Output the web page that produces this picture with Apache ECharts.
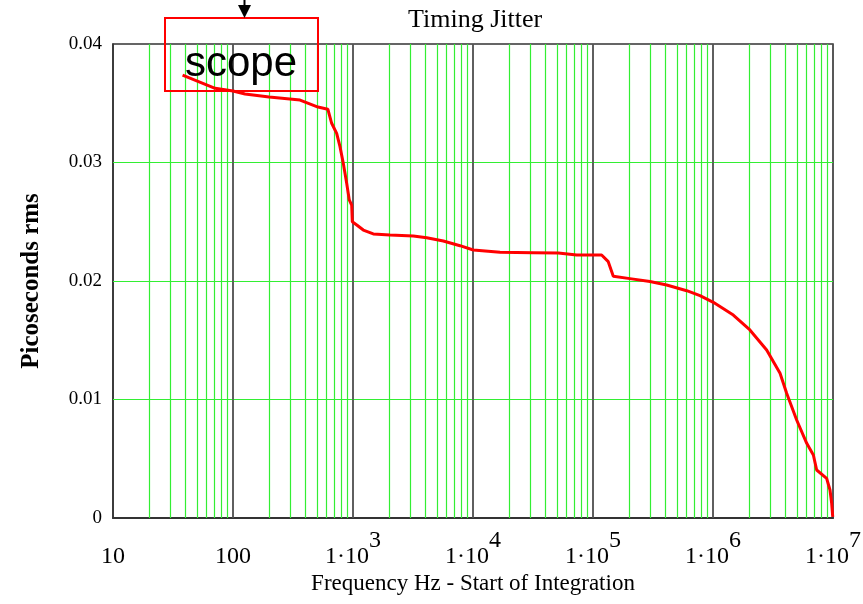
<!DOCTYPE html>
<html>
<head>
<meta charset="utf-8">
<script src="https://cdn.jsdelivr.net/npm/echarts@6/dist/echarts.min.js"></script>
<style>
  html, body { margin: 0; padding: 0; background: #ffffff; }
  #chart { width: 863px; height: 604px; }
</style>
</head>
<body>
<div id="chart"></div>
<script>
// Integrated timing jitter (ps rms) versus the lower integration limit (Hz)
const freqHz = [
  38, 71, 100, 126, 200, 362, 511, 617, 664, 731, 779, 830, 886, 931, 975, 987,
  1075, 1219, 1476, 2034, 3183, 4115, 5658, 7792, 10060, 16790, 31800, 51400,
  73100, 118000, 134000, 147600, 203000, 298000, 411000, 604000, 779000,
  1006000, 1476000, 2030000, 2800000, 3620000, 4110000, 4980000, 6040000,
  6860000, 7310000, 8850000, 9440000, 9750000, 9950000
];
const jitterPs = [
  0.03738, 0.03626, 0.03603, 0.03578, 0.03552, 0.03527, 0.03468, 0.03450, 0.03331,
  0.03246, 0.03134, 0.02993, 0.02824, 0.02684, 0.02641, 0.02500,
  0.02473, 0.02430, 0.02397, 0.02388, 0.02380, 0.02365, 0.02338, 0.02298,
  0.02262, 0.02242, 0.02239, 0.02236,
  0.02219, 0.02219, 0.02163, 0.02040, 0.02020, 0.01995, 0.01966, 0.01918, 0.01876,
  0.01820, 0.01713, 0.01587, 0.01418, 0.01221, 0.01052, 0.00827, 0.00630,
  0.00532, 0.00405, 0.00335, 0.00236, 0.00124, 0.00010
];

// Grid: green lines at 2..9 within each decade and at the inner value ticks,
// dark lines on the decades themselves
const decadeStarts = [10, 100, 1e3, 1e4, 1e5, 1e6];
const minorMultipliers = [2, 3, 4, 5, 6, 7, 8, 9];
const innerDecades = [100, 1e3, 1e4, 1e5, 1e6];
const valueGridLines = [0.01, 0.02, 0.03];

const serif = "'Liberation Serif', 'Times New Roman', serif";

const minorLines = [];
decadeStarts.forEach(d => minorMultipliers.forEach(m => minorLines.push({ xAxis: d * m })));

function freqLabel(value) {
  const exp = Math.round(Math.log10(value));
  if (exp < 3) return '{n|' + Math.round(value) + '}';
  return '{n|1·10}{s|' + exp + '}';
}

const chart = echarts.init(document.getElementById('chart'), null, { renderer: 'canvas' });

chart.setOption({
  backgroundColor: '#ffffff',
  animation: false,
  title: {
    text: 'Timing Jitter',
    left: 403,
    top: 2,
    textStyle: { fontFamily: serif, fontSize: 26, fontWeight: 'normal', color: '#000' }
  },
  grid: {
    left: 113, right: 30, top: 44, bottom: 86,
    outerBoundsMode: 'none',
    containLabel: false,
    show: true, borderColor: '#333', borderWidth: 1.5, backgroundColor: '#fff'
  },
  xAxis: {
    type: 'log',
    logBase: 10,
    min: 10,
    max: 1e7,
    name: 'Frequency Hz - Start of Integration',
    nameLocation: 'middle',
    nameGap: 54,
    nameMoveOverlap: false,
    nameTextStyle: { fontFamily: serif, fontSize: 23, color: '#000' },
    axisLine: { show: true, lineStyle: { color: '#333', width: 2 } },
    axisTick: { show: false },
    splitLine: { show: true, lineStyle: { color: '#555', width: 1.5 } },
    axisLabel: {
      margin: 11,
      formatter: freqLabel,
      color: '#000',
      fontFamily: serif,
      fontSize: 24,
      rich: {
        n: { fontFamily: serif, fontSize: 24, lineHeight: 56, color: '#000' },
        s: { fontFamily: serif, fontSize: 24, lineHeight: 24, padding: [0, 0, 32, 0], color: '#000' }
      }
    }
  },
  yAxis: {
    type: 'value',
    min: 0,
    max: 0.04,
    interval: 0.01,
    name: 'Picoseconds rms',
    nameLocation: 'middle',
    nameRotate: 90,
    nameGap: 69,
    nameMoveOverlap: false,
    nameTextStyle: { fontFamily: serif, fontSize: 25, fontWeight: 'bold', color: '#000' },
    axisLine: { show: true, lineStyle: { color: '#333', width: 1.5 } },
    axisTick: { show: false },
    splitLine: { show: false },
    axisLabel: { margin: 11, fontFamily: serif, fontSize: 19, color: '#000' }
  },
  series: [
    {
      name: 'grid',
      type: 'line',
      data: [],
      silent: true,
      z: 1,
      markLine: {
        silent: true,
        symbol: ['none', 'none'],
        label: { show: false },
        animation: false,
        lineStyle: { color: '#33ee33', width: 1.2, type: 'solid' },
        data: minorLines
          .concat(valueGridLines.map(v => ({ yAxis: v })))
          .concat(innerDecades.map(d => ({ xAxis: d, lineStyle: { color: '#555', width: 1.5 } })))
      }
    },
    {
      name: 'Timing Jitter',
      type: 'line',
      data: freqHz.map((f, i) => [f, jitterPs[i]]),
      showSymbol: false,
      z: 5,
      lineStyle: { color: '#ff0000', width: 3 },
      itemStyle: { color: '#ff0000' }
    }
  ],
  graphic: [
    {
      type: 'rect',
      z: 100,
      shape: { x: 165, y: 18, width: 153, height: 73 },
      style: { fill: 'none', stroke: '#ff0000', lineWidth: 2 }
    },
    {
      type: 'text',
      z: 100,
      x: 185,
      y: 64,
      style: { text: 'scope', font: '42px "Liberation Sans", Arial, sans-serif', fill: '#000', verticalAlign: 'middle' }
    },
    {
      type: 'line',
      z: 100,
      shape: { x1: 244.5, y1: 0, x2: 244.5, y2: 8 },
      style: { stroke: '#000', lineWidth: 2 }
    },
    {
      type: 'polygon',
      z: 100,
      shape: { points: [[238, 5], [251, 5], [244.5, 18]] },
      style: { fill: '#000' }
    }
  ]
});
</script>
</body>
</html>
